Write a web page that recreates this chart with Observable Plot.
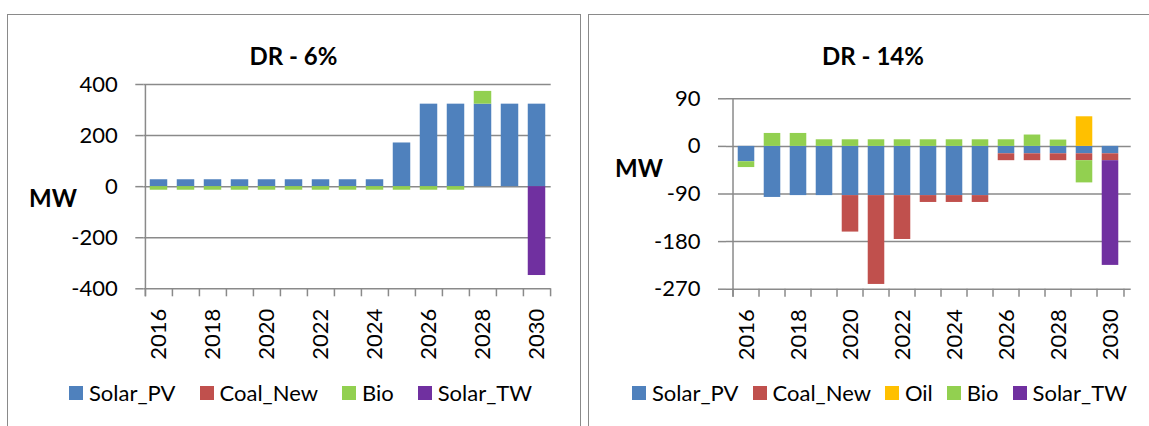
<!DOCTYPE html>
<html>
<head>
<meta charset="utf-8">
<script src="https://cdn.jsdelivr.net/npm/d3@7"></script>
<script src="https://cdn.jsdelivr.net/npm/@observablehq/plot@0.6"></script>
<style>
  html, body { margin: 0; padding: 0; background: #fff; }
  body { width: 1149px; height: 426px; overflow: hidden; position: relative; font-family: Lato, "Open Sans", sans-serif; color: #000; }
  .panel { position: absolute; top: 14px; height: 440px; border: 1.5px solid #8a8a8a; box-sizing: border-box; }
  .abs { position: absolute; }
  .title { font-weight: bold; font-size: 24px; line-height: 24px; text-align: center; white-space: nowrap; }
  .mw { font-weight: bold; font-size: 24px; line-height: 24px; white-space: nowrap; }
  .legend { display: flex; align-items: center; font-size: 22px; line-height: 22px; height: 22px; white-space: nowrap; }
  .item { display: flex; align-items: center; }
  .sw { width: 14px; height: 14px; margin-right: 6px; display: inline-block; }
</style>
</head>
<body>
<script>
// ---------- data ----------
const years = ["2016","2017","2018","2019","2020","2021","2022","2023","2024","2025","2026","2027","2028","2029","2030"];
const seriesNames = ["Solar_PV", "Coal_New", "Oil", "Bio", "Solar_TW"];
const seriesColors = ["#4F81BD", "#C0504D", "#FFC000", "#92D050", "#7030A0"];

// DR - 6%
const dr6Title = "DR - 6%";
const dr6SolarPV = [27, 27, 27, 27, 27, 27, 27, 27, 27, 171, 323, 323, 323, 323, 323];
const dr6CoalNew = [0, 0, 0, 0, 0, 0, 0, 0, 0, 0, 0, 0, 0, 0, 0];
const dr6Bio     = [-14, -14, -14, -14, -14, -14, -14, -14, -14, -14, -14, -14, 50, 0, 0];
const dr6SolarTW = [0, 0, 0, 0, 0, 0, 0, 0, 0, 0, 0, 0, 0, 0, -348];
const dr6YTicks = [-400, -200, 0, 200, 400];
const dr6Legend = ["Solar_PV", "Coal_New", "Bio", "Solar_TW"];

// DR - 14%
const dr14Title = "DR - 14%";
const dr14SolarPV = [-29, -96.5, -93, -93, -93, -93, -93, -93, -93, -93, -14, -14, -14, -14, -14];
const dr14CoalNew = [0, 0, 0, 0, -69, -168, -83, -13, -13, -13, -13, -13, -13, -13, -13];
const dr14Oil     = [0, 0, 0, 0, 0, 0, 0, 0, 0, 0, 0, 0, 0, 56, 0];
const dr14Bio     = [-11, 24.5, 24.5, 12.5, 12.5, 12.5, 12.5, 12.5, 12.5, 12.5, 12.5, 21.5, 12, -42, 0];
const dr14SolarTW = [0, 0, 0, 0, 0, 0, 0, 0, 0, 0, 0, 0, 0, 0, -198];
const dr14YTicks = [-270, -180, -90, 0, 90];
const dr14Legend = ["Solar_PV", "Coal_New", "Oil", "Bio", "Solar_TW"];

// ---------- helpers ----------
function toRows(map) {
  const rows = [];
  for (const s of seriesNames) {
    const vals = map[s];
    if (!vals) continue;
    vals.forEach((v, i) => { if (v !== 0) rows.push({year: years[i], series: s, value: v}); });
  }
  return rows;
}

const GRID = "#8a8a8a";

function chart(rows, yTicks, L) {
  const plotW = L.width - L.marginLeft - L.marginRight;
  const step = plotW / years.length;
  const barInset = step * 0.175;
  const yMin = yTicks[0], yMax = yTicks[yTicks.length - 1];
  const labelYears = years.filter((d, i) => i % 2 === 0);
  return Plot.plot({
    width: L.width,
    height: L.height,
    marginLeft: L.marginLeft,
    marginRight: L.marginRight,
    marginTop: L.marginTop,
    marginBottom: L.marginBottom,
    style: {fontSize: "22px", fontFamily: "Lato, 'Open Sans', sans-serif", background: "transparent", color: "#000", overflow: "visible"},
    x: {type: "band", domain: years, padding: 0},
    y: {domain: [yMin, yMax]},
    color: {domain: seriesNames, range: seriesColors},
    marks: [
      Plot.gridY(yTicks, {stroke: GRID, strokeOpacity: 1, strokeWidth: 1.5}),
      Plot.barY(rows, {x: "year", y: "value", fill: "series", insetLeft: barInset, insetRight: barInset}),
      // y axis line (at left boundary of first category)
      Plot.ruleX([years[0]], {y1: yMax, y2: yMin, dx: -step / 2, stroke: GRID, strokeWidth: 1.5, insetBottom: -8}),
      // x category boundary ticks
      Plot.ruleX(years, {y1: yMin, y2: yMin, dx: -step / 2, stroke: GRID, strokeWidth: 1.5, insetBottom: -8}),
      Plot.ruleX([years[years.length - 1]], {y1: yMin, y2: yMin, dx: step / 2, stroke: GRID, strokeWidth: 1.5, insetBottom: -8}),
      Plot.axisY({ticks: yTicks, tickSize: 8, tickPadding: 18, tickFormat: d => String(d), stroke: GRID, strokeWidth: 1.5, strokeOpacity: 1, fill: "#000", label: null}),
      Plot.axisX({ticks: labelYears, tickSize: 0, tickPadding: 20, tickRotate: -90, fill: "#000", label: null})
    ]
  });
}

function addDiv(cls, style, text) {
  const d = document.createElement("div");
  d.className = cls;
  Object.assign(d.style, style);
  if (text != null) d.textContent = text;
  document.body.appendChild(d);
  return d;
}

function legend(names, style, gap) {
  const lg = addDiv("abs legend", Object.assign({gap: gap + "px"}, style));
  for (const n of names) {
    const it = document.createElement("div");
    it.className = "item";
    const sw = document.createElement("span");
    sw.className = "sw";
    sw.style.background = seriesColors[seriesNames.indexOf(n)];
    const tx = document.createElement("span");
    tx.textContent = n;
    it.appendChild(sw); it.appendChild(tx);
    lg.appendChild(it);
  }
}

// ---------- panel borders ----------
addDiv("panel", {left: "7px", width: "574px"});
addDiv("panel", {left: "588px", width: "600px"});

// ---------- left chart ----------
const rows6 = toRows({Solar_PV: dr6SolarPV, Coal_New: dr6CoalNew, Bio: dr6Bio, Solar_TW: dr6SolarTW});
const svg6 = chart(rows6, dr6YTicks, {width: 580, height: 426, marginLeft: 143.3, marginRight: 29.3, marginTop: 84, marginBottom: 137.7});
Object.assign(svg6.style, {position: "absolute", left: "0px", top: "0px"});
document.body.appendChild(svg6);
addDiv("abs title", {left: "7px", width: "573px", top: "44px"}, dr6Title);
addDiv("abs mw", {left: "29px", top: "186px"}, "MW");
legend(dr6Legend, {left: "69px", top: "382px"}, 24);

// ---------- right chart ----------
const rows14 = toRows({Solar_PV: dr14SolarPV, Coal_New: dr14CoalNew, Oil: dr14Oil, Bio: dr14Bio, Solar_TW: dr14SolarTW});
const svg14 = chart(rows14, dr14YTicks, {width: 569, height: 426, marginLeft: 146, marginRight: 18.3, marginTop: 98.3, marginBottom: 137.3});
Object.assign(svg14.style, {position: "absolute", left: "580px", top: "0px"});
document.body.appendChild(svg14);
addDiv("abs title", {left: "588px", width: "570px", top: "44px"}, dr14Title);
addDiv("abs mw", {left: "615px", top: "156px"}, "MW");
legend(dr14Legend, {left: "632px", top: "382px"}, 14);
</script>
</body>
</html>
